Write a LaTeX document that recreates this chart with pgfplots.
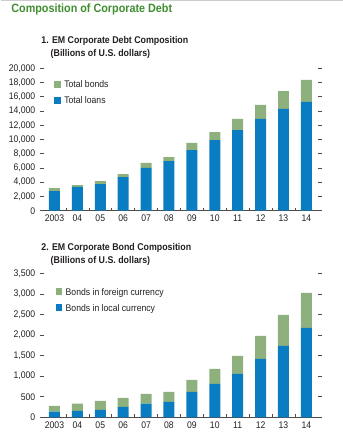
\documentclass[border=0pt]{standalone}
\usepackage{pgfplots}
\pgfplotsset{compat=1.18}
\usepackage{pgfplotstable}
\usepackage{fontspec}
\setmainfont[FakeStretch=0.9]{Liberation Sans}
\definecolor{titlegreen}{HTML}{3E8E2E}
\definecolor{bargreen}{HTML}{8EB07C}
\definecolor{barblue}{HTML}{0A7CC1}
\definecolor{txt}{HTML}{231F20}

\pgfplotstableread{
x loans bonds
0 2760 420
1 3330 270
2 3750 420
3 4730 420
4 6000 700
5 6980 560
6 8520 990
7 9930 1120
8 11330 1550
9 12880 1970
10 14290 2520
11 15270 3090
}\debt

\pgfplotstableread{
x local foreign
0 138 138
1 154 178
2 178 219
3 251 219
4 332 235
5 373 243
6 616 292
7 810 365
8 1053 438
9 1418 559
10 1734 754
11 2172 851
}\bonds

\pgfplotsset{
  common/.style={
    scale only axis,
    width=282.4bp,
    xmin=-0.64, xmax=11.69,
    ybar stacked,
    bar width=0.48,
    axis line style={draw=none},
    axis x line*=bottom,
    x axis line style={draw=txt!80, line width=0.6pt},
    xtick={0,...,11},
    xticklabels={2003,04,05,06,07,08,09,10,11,12,13,14},
    major x tick style={draw=none},
    minor xtick={0.5,1.5,...,10.5},
    minor x tick style={draw=txt!80, line width=0.6pt},
    minor tick length=3bp,
    tick align=inside,
    ytick pos=both,
    major y tick style={draw=txt!80, line width=0.6pt},
    major tick length=4bp,
    ymin=0,
    tick label style={font=\fontsize{9.6bp}{10bp}\selectfont, text=txt},
    /pgf/number format/assume math mode=true,
    /pgf/number format/1000 sep={,},
    scaled y ticks=false,
    xticklabel style={yshift=-1bp},
    yticklabel style={xshift=-1bp},
    legend cell align=left,
    reverse legend,
    legend image code/.code={\fill[##1] (0bp,-3.3bp) rectangle (6.6bp,3.3bp);},
    legend style={draw=none, fill=none, font=\fontsize{9.6bp}{10bp}\selectfont, text=txt,
      anchor=north west, inner sep=0pt, row sep=6bp, column sep=2bp,
      nodes={inner sep=1.6bp, text depth=0pt}},
  }
}

\begin{document}
\begin{tikzpicture}
\path (0,0) rectangle (342bp,-443bp);
\draw[gray!40, line width=1bp] (0,-0.5bp) -- (342bp,-0.5bp);
\node[anchor=base west, inner sep=0pt, text=titlegreen, font=\bfseries\fontsize{12bp}{14bp}\selectfont] at (10.7bp,-12.7bp) {Composition of Corporate Debt};
\node[anchor=base west, inner sep=0pt, text=txt, font=\bfseries\fontsize{9.8bp}{11bp}\selectfont] at (40.7bp,-43.7bp) {1. EM Corporate Debt Composition};
\node[anchor=base west, inner sep=0pt, text=txt, font=\bfseries\fontsize{9.8bp}{11bp}\selectfont] at (50bp,-56bp) {(Billions of U.S. dollars)};
\node[anchor=base west, inner sep=0pt, text=txt, font=\bfseries\fontsize{9.8bp}{11bp}\selectfont] at (40.7bp,-250.7bp) {2. EM Corporate Bond Composition};
\node[anchor=base west, inner sep=0pt, text=txt, font=\bfseries\fontsize{9.8bp}{11bp}\selectfont] at (50bp,-263bp) {(Billions of U.S. dollars)};

\begin{axis}[common,
  at={(39.3bp,-210.7bp)}, anchor=south west,
  height=142.4bp,
  ymax=20000, ytick={0,2000,...,20000},
  legend style={at={(0.05,0.925)}},
]
\addplot[fill=barblue, draw=none] table[x=x,y=loans]{\debt};
\addlegendentry{Total loans}
\addplot[fill=bargreen, draw=none] table[x=x,y=bonds]{\debt};
\addlegendentry{Total bonds}
\end{axis}

\begin{axis}[common,
  at={(39.3bp,-417.3bp)}, anchor=south west,
  height=144bp,
  ymax=3500, ytick={0,500,...,3500},
  legend style={at={(0.055,0.91)}},
]
\addplot[fill=barblue, draw=none] table[x=x,y=local]{\bonds};
\addlegendentry{Bonds in local currency}
\addplot[fill=bargreen, draw=none] table[x=x,y=foreign]{\bonds};
\addlegendentry{Bonds in foreign currency}
\end{axis}
\end{tikzpicture}
\end{document}
